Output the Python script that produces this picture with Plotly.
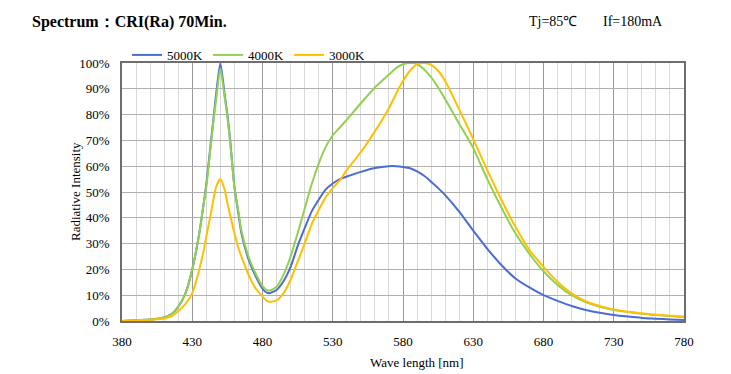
import plotly.graph_objects as go

wavelength = [380, 390, 400, 405, 410, 415, 420, 425, 430, 435, 438, 440, 443, 445, 447, 450,
              453, 455, 457, 460, 463, 465, 470, 475, 480, 483, 485, 490, 495, 500, 505, 510,
              515, 520, 525, 530, 535, 540, 550, 560, 570, 575, 580, 585, 590, 595, 600, 605,
              610, 620, 630, 640, 650, 660, 670, 680, 690, 700, 710, 720, 730, 740, 750, 760,
              770, 780]

cct_5000k = [0, 0.3, 0.6, 0.9, 1.4, 2.6, 5.5, 10.5, 20, 34, 45, 53, 68, 78, 88, 100,
             88, 80, 70, 52, 41, 34, 24, 17.5, 12.5, 11, 10.8, 12, 15.5, 21, 29, 36,
             42.5, 47, 51, 53.3, 55, 56, 57.8, 59.3, 60, 60, 59.7, 59.2, 58, 56.3, 54, 51.5,
             48.8, 42.4, 35, 28, 21.7, 16.5, 13, 10, 7.8, 5.8, 4.3, 3.2, 2.3, 1.7, 1.2, 0.9,
             0.6, 0.4]

cct_4000k = [0, 0.3, 0.6, 0.9, 1.4, 2.6, 5.5, 10.5, 20, 34, 45, 52, 67, 77, 86, 98,
             87, 79, 69, 52, 42, 35, 25, 18.5, 13.5, 12, 11.8, 13.3, 18, 25, 34, 43.5,
             53, 61, 67.5, 72, 75, 78, 84.4, 90.5, 95.5, 98, 99.5, 100, 99.6, 97.5, 94.5, 90.5,
             86, 76.5, 67, 55, 44, 34, 26, 19.3, 14, 10, 7.3, 5.5, 4.3, 3.5, 2.8, 2.3,
             1.9, 1.5]

cct_3000k = [0, 0.2, 0.5, 0.7, 1.0, 1.8, 3.8, 6.5, 10.8, 20, 27, 32.7, 41, 47, 52, 55,
             51, 45.7, 41, 34, 28, 25, 18, 12.7, 9.5, 7.8, 7.5, 8, 10.8, 16, 23, 30,
             37.5, 43, 48, 51.5, 54.5, 58.5, 65.5, 73.5, 82.5, 88, 93, 97, 99.5, 100, 99.3, 97,
             93, 82, 70.5, 58.5, 47, 36.5, 27.5, 21, 15.2, 10.7, 7.7, 5.8, 4.5, 3.6, 3.0, 2.4,
             2.0, 1.7]

series_names = ["5000K", "4000K", "3000K"]
series_colors = ["#4A6CD4", "#92D050", "#FFC000"]
y_tick_values = [0, 10, 20, 30, 40, 50, 60, 70, 80, 90, 100]
y_tick_labels = [f"{v}%" for v in y_tick_values]
x_tick_values = [380, 430, 480, 530, 580, 630, 680, 730, 780]

FONT = "Liberation Serif, Times New Roman, serif"

fig = go.Figure()
for name, vals, col in zip(series_names, [cct_5000k, cct_4000k, cct_3000k], series_colors):
    fig.add_trace(go.Scatter(
        x=wavelength, y=vals, name=name, mode="lines",
        line=dict(color=col, width=2, shape="spline", smoothing=0.6),
    ))

fig.update_layout(
    width=731, height=374,
    margin=dict(l=122, r=47, t=63, b=53),
    paper_bgcolor="white", plot_bgcolor="white",
    font=dict(family=FONT, size=13, color="#000000"),
    showlegend=True,
    legend=dict(orientation="h", x=0.009, xanchor="left", y=0.973, yanchor="bottom",
                font=dict(family=FONT, size=13), itemwidth=30,
                bgcolor="rgba(0,0,0,0)", tracegroupgap=0),
    xaxis=dict(
        range=[380, 780], tickmode="array", tickvals=x_tick_values,
        showgrid=True, gridcolor="#9a9a9a", gridwidth=1,
        minor=dict(dtick=10, tick0=380, showgrid=True, gridcolor="#d9d9d9", gridwidth=1),
        showline=True, linecolor="#6e6e6e", linewidth=1.5, mirror=True,
        zeroline=False, ticks="", ticklabelstandoff=8,
        tickfont=dict(family=FONT, size=13),
    ),
    yaxis=dict(
        range=[0, 100], tickmode="array", tickvals=y_tick_values, ticktext=y_tick_labels,
        showgrid=True, gridcolor="#b0b0b0", gridwidth=1,
        showline=True, linecolor="#6e6e6e", linewidth=1.5, mirror=True,
        zeroline=False, ticks="", ticklabelstandoff=8,
        tickfont=dict(family=FONT, size=13),
    ),
    annotations=[
        dict(text="<b>Spectrum：CRI(Ra) 70Min.</b>", xref="paper", yref="paper",
             x=(30 - 122) / 562, y=1 + (63 - 22) / 258, xanchor="left", yanchor="middle",
             showarrow=False, font=dict(family=FONT, size=16, color="#000")),
        dict(text="Tj=85℃", xref="paper", yref="paper",
             x=(527 - 122) / 562, y=1 + (63 - 22) / 258, xanchor="left", yanchor="middle",
             showarrow=False, font=dict(family=FONT, size=14, color="#000")),
        dict(text="If=180mA", xref="paper", yref="paper",
             x=(601 - 122) / 562, y=1 + (63 - 22) / 258, xanchor="left", yanchor="middle",
             showarrow=False, font=dict(family=FONT, size=14, color="#000")),
        dict(text="Wave length [nm]", xref="paper", yref="paper",
             x=(417 - 122) / 562, y=-(362 - 321) / 258, xanchor="center", yanchor="middle",
             showarrow=False, font=dict(family=FONT, size=13, color="#000")),
        dict(text="Radiative Intensity", xref="paper", yref="paper", textangle=-90,
             x=-(122 - 75) / 562, y=0.5, xanchor="center", yanchor="middle",
             showarrow=False, font=dict(family=FONT, size=13, color="#000")),
    ],
)

fig.write_html("out.html", config={"displayModeBar": False},
               post_script="document.body.style.margin='0';document.body.style.padding='0';")
